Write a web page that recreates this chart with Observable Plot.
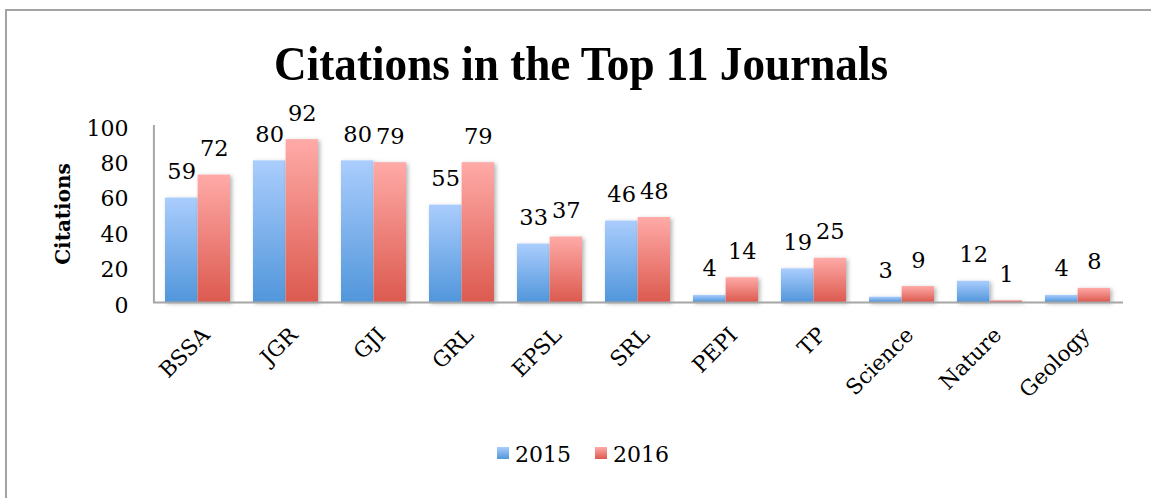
<!DOCTYPE html>
<html><head><meta charset="utf-8">
<script src="https://cdn.jsdelivr.net/npm/d3@7"></script>
<script src="https://cdn.jsdelivr.net/npm/@observablehq/plot@0.6"></script>
<style>
html,body{margin:0;padding:0;background:#fff;}
#page{position:relative;width:1151px;height:498px;overflow:hidden;background:#fff;}
#border{position:absolute;left:5px;top:9px;width:1300px;height:600px;border-left:2px solid #a3a3a3;border-top:2px solid #a3a3a3;}
#titlewrap{position:absolute;left:0;top:40px;width:1162px;text-align:center;font:bold 48px/48px "Liberation Serif";color:#000;}
#title{display:inline-block;transform-origin:50% 50%;white-space:nowrap;}
#chart{position:absolute;left:0;top:100px;}
#legend{position:absolute;left:497px;top:444px;display:flex;align-items:center;font:22px/22px "DejaVu Serif";color:#000;}
.sw{width:12px;height:12px;margin-right:6px;transform:translateY(-2px);}
.lab{margin-right:24px;}
</style></head><body>
<div id="page"><div id="border"></div><div id="titlewrap"><span id="title">Citations in the Top 11 Journals</span></div><div id="chart"></div><div id="legend"></div></div>
<script>
const journals = ["BSSA","JGR","GJI","GRL","EPSL","SRL","PEPI","TP","Science","Nature","Geology"];
const citations2015 = [59,80,80,55,33,46,4,19,3,12,4];
const citations2016 = [72,92,79,79,37,48,14,25,9,1,8];
const years = ["2015","2016"];
const yTicks = [0,20,40,60,80,100];
const gradTop = ["#aacdfd","#ffaaa7"];
const gradBottom = ["#5196db","#dc5a4f"];

const W = 1151, H = 310, ML = 153, MR = 28, MT = 25, MB = 108;
const n = journals.length, pIn = 0.26, pOut = 0.13;
const step = (W - ML - MR) / (n - pIn + 2 * pOut);
const half = step * (1 - pIn) / 2;

const rows2015 = journals.map((j, i) => ({journal: j, value: citations2015[i]}));
const rows2016 = journals.map((j, i) => ({journal: j, value: citations2016[i]}));

const chart = Plot.plot({
  width: W, height: H, marginLeft: ML, marginRight: MR, marginTop: MT, marginBottom: MB,
  style: {fontFamily: "DejaVu Serif", fontSize: "22px", color: "#000", background: "transparent", overflow: "visible"},
  x: {domain: journals, paddingInner: pIn, paddingOuter: pOut, align: 0.5},
  y: {domain: [0, 100]},
  marks: [
    Plot.barY(rows2015, {x: "journal", y: "value", fill: "url(#g2015)", insetRight: half}),
    Plot.barY(rows2016, {x: "journal", y: "value", fill: "url(#g2016)", insetLeft: half}),
    Plot.ruleY([0], {stroke: "#a6a6a6", strokeWidth: 2}),
    Plot.ruleX([journals[0]], {stroke: "#a6a6a6", strokeWidth: 2, dx: -step / 2}),
    Plot.axisY(yTicks, {tickSize: 0, tickPadding: 25, label: null, fontSize: 22, dy: 3}),
    Plot.axisX({tickRotate: -45, tickSize: 0, tickPadding: 29, dx: 8, label: null, fontSize: 21.5}),
    Plot.text(["Citations"], {text: d => d, frameAnchor: "left", textAnchor: "middle", dx: -90, rotate: -90, fontWeight: "bold", fontSize: 20}),
    Plot.text(rows2015, {x: "journal", y: "value", text: d => String(d.value), dx: -half / 2, dy: -19, lineAnchor: "bottom", fontSize: 22.5}),
    Plot.text(rows2016, {x: "journal", y: "value", text: d => String(d.value), dx: half / 2, dy: -19, lineAnchor: "bottom", fontSize: 22.5})
  ]
});

const defs = document.createElementNS("http://www.w3.org/2000/svg", "defs");
defs.innerHTML = years.map((y, i) =>
  `<linearGradient id="g${y}" x1="0" y1="0" x2="0" y2="1"><stop offset="0" stop-color="${gradTop[i]}"/><stop offset="1" stop-color="${gradBottom[i]}"/></linearGradient>`
).join("") + `<filter id="shadow" x="-20%" y="-20%" width="150%" height="150%"><feDropShadow dx="2" dy="1.5" stdDeviation="2" flood-color="#000" flood-opacity="0.3"/></filter>`;
chart.insertBefore(defs, chart.firstChild);
chart.querySelectorAll('g[aria-label="bar"]').forEach(g => g.setAttribute("filter", "url(#shadow)"));
document.getElementById("chart").appendChild(chart);

const legend = document.getElementById("legend");
years.forEach((y, i) => {
  const sw = document.createElement("div");
  sw.className = "sw";
  sw.style.background = `linear-gradient(to bottom, ${gradTop[i]}, ${gradBottom[i]})`;
  const lab = document.createElement("span");
  lab.className = "lab";
  lab.textContent = y;
  legend.appendChild(sw);
  legend.appendChild(lab);
});

function fitTitle() {
  const t = document.getElementById("title");
  t.style.transform = "none";
  const w = t.getBoundingClientRect().width;
  t.style.transform = `scaleX(${614 / w})`;
}
fitTitle();
if (document.fonts && document.fonts.ready) document.fonts.ready.then(fitTitle);
</script>
</body></html>
